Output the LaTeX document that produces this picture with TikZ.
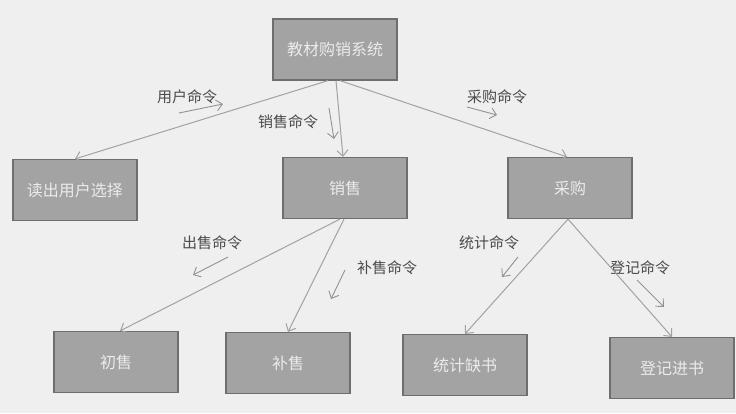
\documentclass[tikz,border=0pt]{standalone}
\usepackage{fontspec}
\usepackage{xcolor}
\usetikzlibrary{arrows.meta}
\newfontfamily\cjk{Noto Sans CJK SC}
\definecolor{bgc}{HTML}{EFEFEF}
\definecolor{boxfill}{HTML}{A3A3A3}
\definecolor{boxline}{HTML}{6E6E6E}
\definecolor{edge}{HTML}{A2A2A2}
\definecolor{lbl}{HTML}{4A4A4A}

\begin{document}
\begin{tikzpicture}[
  x=1pt, y=-1pt,
  box/.style={draw=boxline, line width=1.2pt, fill=boxfill, align=center,
              font=\cjk\fontsize{16}{19}\selectfont, text=white!92!black,
              minimum width=124pt, minimum height=61pt, inner sep=2pt},
  cmd/.style={font=\cjk\fontsize{15}{18}\selectfont, text=lbl, inner sep=1pt},
  ar/.style ={-{Straight Barb[length=6pt,width=11pt]}, draw=edge, line width=1pt},
  tag/.style={-{Straight Barb[length=6pt,width=11pt]}, draw=edge!90!black, line width=0.9pt}
]
\useasboundingbox (0,0) rectangle (736,413);
\fill[bgc] (0,0) rectangle (736,413);
% boxes
\node[box] (sys)  at (335,49.5) {教材购销系统};
\node[box] (read) at (75,190)   {读出用户选择};
\node[box] (sale) at (345,188)  {销售};
\node[box] (buy)  at (570,188)  {采购};
\node[box] (first) at (116,362) {初售};
\node[box] (extra) at (288,363) {补售};
\node[box] (lack)  at (465,365) {统计缺书};
\node[box] (reg)   at (672,368) {登记进书};
% command labels
\node[cmd] (cUser) at (187,97)  {用户命令};
\node[cmd] (cSale) at (288,122) {销售命令};
\node[cmd] (cBuy)  at (497,97)  {采购命令};
\node[cmd] (cSell) at (212,243) {出售命令};
\node[cmd] (cAdd)  at (387,268) {补售命令};
\node[cmd] (cStat) at (489,243) {统计命令};
\node[cmd] (cReg)  at (640,268) {登记命令};
% label arrows
\coordinate (uA) at (179,113); \coordinate (uB) at (223,104);
\coordinate (sA) at (329,108); \coordinate (sB) at (334,139);
\coordinate (bA) at (467,107); \coordinate (bB) at (497,115);
\coordinate (oA) at (228,257); \coordinate (oB) at (193,275);
\coordinate (aA) at (345,270); \coordinate (aB) at (331,299);
\coordinate (tA) at (518,257); \coordinate (tB) at (502,277);
\coordinate (rA) at (637,280); \coordinate (rB) at (664,307);
\draw[tag] (uA) -- (uB); \draw[tag] (sA) -- (sB); \draw[tag] (bA) -- (bB);
\draw[tag] (oA) -- (oB); \draw[tag] (aA) -- (aB);
\draw[tag] (tA) -- (tB); \draw[tag] (rA) -- (rB);
% connectors
\draw[ar] ([xshift=-7pt]sys.south) -- (read.north);
\draw[ar] ([xshift=1pt]sys.south) -- ([xshift=-2pt]sale.north);
\draw[ar] ([xshift=5pt]sys.south) -- ([xshift=-3pt]buy.north);
\draw[ar] ([xshift=-5pt]sale.south) -- ([xshift=4pt]first.north);
\draw[ar] ([xshift=-1pt]sale.south) -- (extra.north);
\draw[ar] ([xshift=-2pt]buy.south) -- (lack.north);
\draw[ar] ([xshift=-2pt]buy.south) -- (reg.north);
\end{tikzpicture}
\end{document}
